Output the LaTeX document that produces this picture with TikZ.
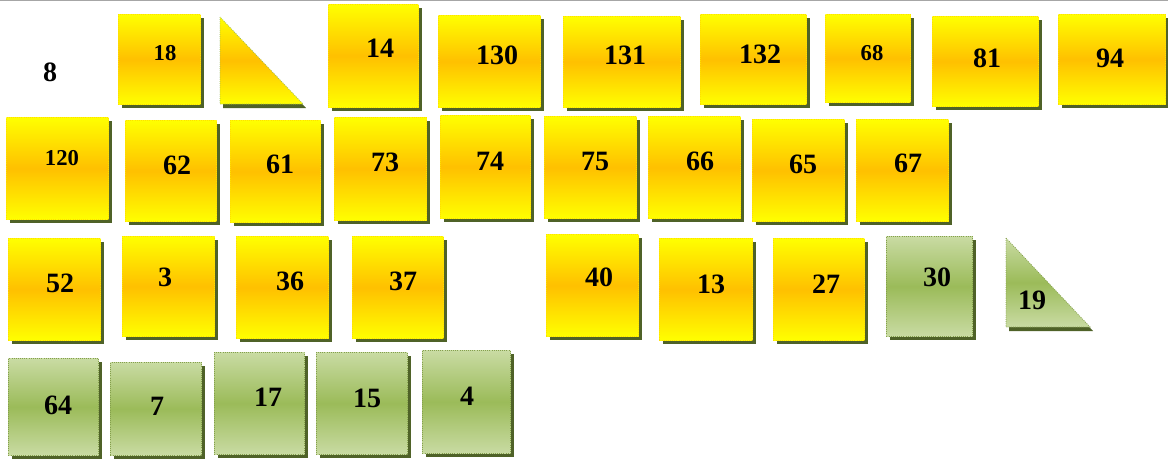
\documentclass[tikz,border=0pt]{standalone}
\usepackage{fontspec}
\setmainfont{Liberation Serif}
\usepackage{tikz}
\usetikzlibrary{shadows}
\definecolor{cardyellow}{HTML}{FFFF00}
\definecolor{cardorange}{HTML}{FFC000}
\definecolor{cardgreen}{HTML}{9BBB59}
\definecolor{cardgreenlt}{HTML}{C9DBA3}
\definecolor{cardshadow}{HTML}{4F6228}

\begin{document}
\begin{tikzpicture}[x=0.75pt,y=-0.75pt,
  card/.style={draw=#1,densely dotted,line width=0.6pt,anchor=north west,inner sep=0pt,
    general shadow={fill=cardshadow,shadow xshift=2.5pt,shadow yshift=-3pt}},
  ycard/.style={card=cardyellow!75!orange,top color=cardyellow,bottom color=cardyellow,middle color=cardorange},
  gcard/.style={card=cardgreen!85!black,top color=cardgreenlt,bottom color=cardgreenlt,middle color=cardgreen},
  num/.style={font=\bfseries\fontsize{21}{21}\selectfont},
  snum/.style={font=\bfseries\fontsize{17}{17}\selectfont}]
  \useasboundingbox (0,0) rectangle (1168,462);
  \draw[gray!70,line width=1.5pt] (0,0) -- (1168,0);
  \node[num] (t8) at (50,72) {8};
  % yellow cards
  \foreach \n/\s/\xa/\ya/\xb/\yb/\lx/\ly in {
      18/snum/118/14/200/104/165/53, 14/num/328/4/418/107/380/48,
      130/num/438/15/540/107/497/55, 131/num/563/16/680/107/625/55,
      132/num/700/14/806/104/760/54, 68/snum/825/14/910/102/872/53,
      81/num/932/16/1038/106/987/58, 94/num/1058/14/1165/104/1110/58,
      120/snum/6/117/108/219/62/158, 62/num/125/120/216/221/177/165,
      61/num/230/120/320/222/280/164, 73/num/334/117/426/220/385/162,
      74/num/440/115/530/218/490/161, 75/num/544/116/636/218/595/161,
      66/num/648/116/740/218/700/161, 65/num/752/119/844/221/803/164,
      67/num/856/119/948/221/908/163, 52/num/8/238/100/340/60/283,
      3/num/122/236/214/336/165/277, 36/num/236/236/328/338/290/281,
      37/num/352/236/443/338/403/281, 40/num/546/234/638/336/599/277,
      13/num/659/238/752/340/711/284, 27/num/773/238/864/340/826/284}{
    \node[ycard,minimum width={(\xb-\xa)*0.75pt},minimum height={(\yb-\ya)*0.75pt}] (c\n) at (\xa,\ya) {};
    \node[\s] (t\n) at (\lx,\ly) {\n};
  }
  % green cards
  \foreach \n/\xa/\ya/\xb/\yb/\lx/\ly in {
      30/886/236/972/336/937/277, 64/8/358/98/455/58/405,
      7/110/362/201/455/157/406, 17/214/352/304/454/268/397,
      15/316/352/407/454/367/398, 4/422/350/510/453/467/396}{
    \node[gcard,minimum width={(\xb-\xa)*0.75pt},minimum height={(\yb-\ya)*0.75pt}] (c\n) at (\xa,\ya) {};
    \node[num] (t\n) at (\lx,\ly) {\n};
  }
  % triangles
  \coordinate (ya) at (220,17);
  \coordinate (yb) at (220,104);
  \coordinate (yc) at (303,104);
  \fill[cardshadow] ([shift={(3,4)}]ya) -- ([shift={(3,4)}]yb) -- ([shift={(3,4)}]yc) -- cycle;
  \path[draw=cardgreen,densely dotted,line width=0.6pt,top color=cardyellow,bottom color=cardyellow,middle color=cardorange]
    (ya) -- (yb) -- (yc) -- cycle;
  \coordinate (ga) at (1006,238);
  \coordinate (gb) at (1006,327);
  \coordinate (gc) at (1090,327);
  \fill[cardshadow] ([shift={(3,4)}]ga) -- ([shift={(3,4)}]gb) -- ([shift={(3,4)}]gc) -- cycle;
  \path[draw=cardgreen!85!black,densely dotted,line width=0.6pt,top color=cardgreenlt,bottom color=cardgreenlt,middle color=cardgreen]
    (ga) -- (gb) -- (gc) -- cycle;
  \node[num] (t19) at (1032,300) {19};
\end{tikzpicture}
\end{document}
